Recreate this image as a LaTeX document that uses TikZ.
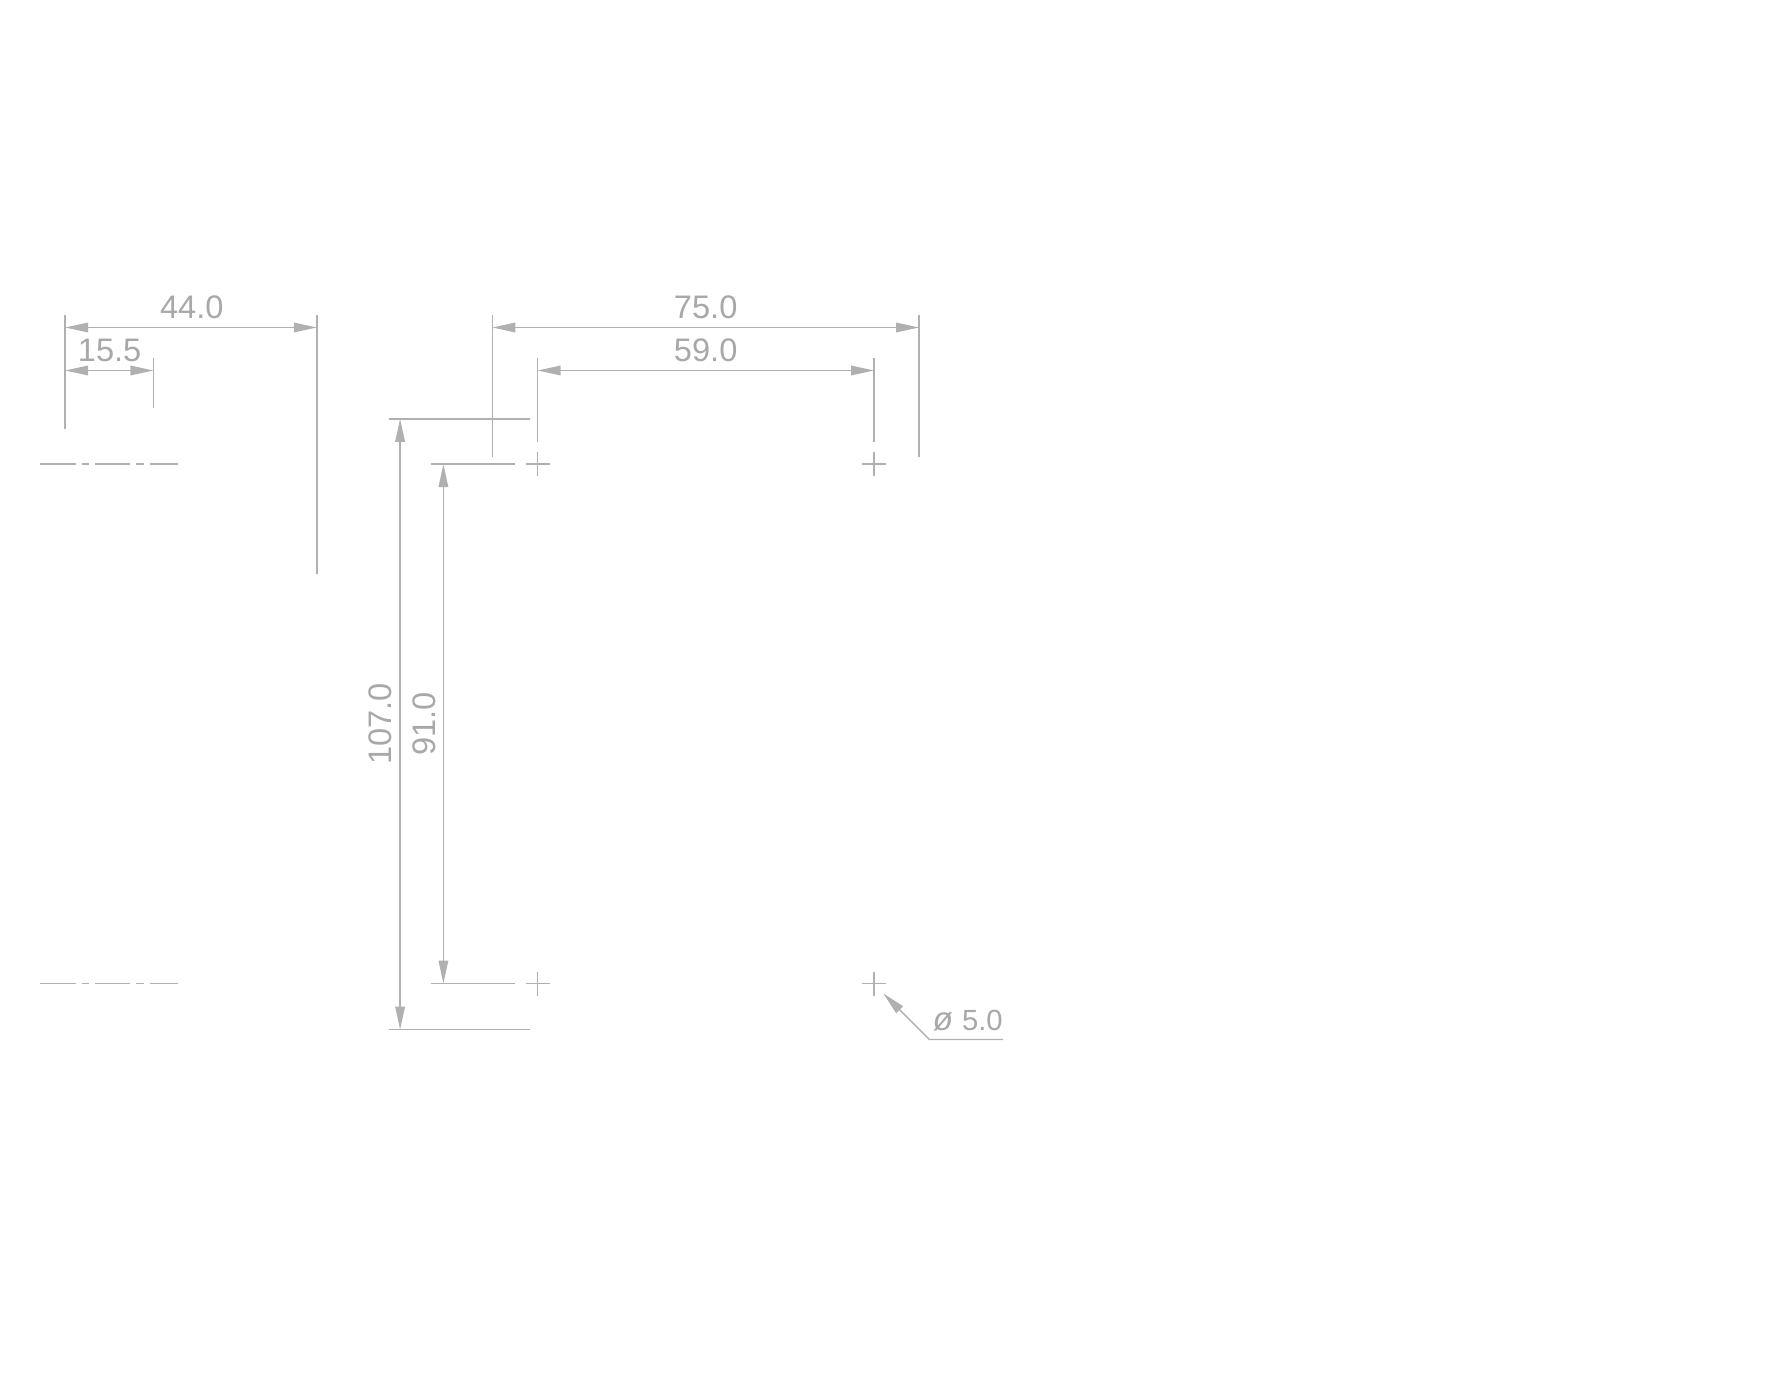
\documentclass[tikz,border=0pt]{standalone}
\usepackage{fontspec}
\setmainfont{Liberation Sans}
\usetikzlibrary{arrows.meta}
\definecolor{dimline}{HTML}{B0B0B0}
\definecolor{dimtext}{HTML}{A8A8A8}
\tikzset{
  dimstyle/.style={draw=dimline,line width=0.7pt},
  dimarrow/.style={dimstyle,{Triangle[length=11.5pt,width=4.8pt,fill=dimline]}-{Triangle[length=11.5pt,width=4.8pt,fill=dimline]},shorten <=0pt,shorten >=0pt},
  leaderarrow/.style={dimstyle,{Triangle[length=11.5pt,width=4.8pt,fill=dimline]}-},
  dimlabel/.style={inner sep=0pt,anchor=base,text=dimtext,font=\fontsize{16.3pt}{16.3pt}\selectfont},
  dimlabelv/.style={dimlabel,rotate=90}
}
\begin{document}
\begin{tikzpicture}[x=0.5pt,y=-0.5pt]
\useasboundingbox (0,0) rectangle (1770,1380);
\begin{scope}[shift={(0.1,0.8)}]
% key positions
\def\Ya{326.7}\def\Yb{369.7}\def\Yc{463.3}\def\Yd{982.7}
% left view dimensions
\coordinate (a1) at (65,\Ya); \coordinate (a2) at (316.7,\Ya);
\coordinate (b1) at (65,\Yb); \coordinate (b2) at (153.3,\Yb);
\draw[dimstyle] (65,314.3) -- (65,427.7);
\draw[dimstyle] (316.7,314.3) -- (316.7,573);
\draw[dimstyle] (153.3,357.3) -- (153.3,406.7);
\draw[dimarrow] (a1) -- (a2);
\draw[dimarrow] (b1) -- (b2);
\node[dimlabel] (t44) at (191.7,318) {44.0};
\node[dimlabel] (t15) at (109.5,361) {15.5};
% centre lines
\foreach \yy in {\Yc,\Yd}{
  \draw[dimstyle] (40.3,\yy) -- (76,\yy) (81.7,\yy) -- (89.3,\yy) (95,\yy) -- (130.3,\yy)
     (136,\yy) -- (144,\yy) (150,\yy) -- (178.3,\yy);
}
% top dimensions, right view
\coordinate (c1) at (492.2,\Ya); \coordinate (c2) at (919,\Ya);
\coordinate (d1) at (537.5,\Yb); \coordinate (d2) at (873.9,\Yb);
\draw[dimstyle] (492.2,314.3) -- (492.2,455.7);
\draw[dimstyle] (919,314.3) -- (919,455.7);
\draw[dimstyle] (537.5,357.3) -- (537.5,441);
\draw[dimstyle] (873.9,357.3) -- (873.9,441);
\draw[dimarrow] (c1) -- (c2);
\draw[dimarrow] (d1) -- (d2);
\node[dimlabel] (t75) at (705.6,318) {75.0};
\node[dimlabel] (t59) at (705.6,361) {59.0};
% vertical dimensions
\coordinate (e1) at (400,418); \coordinate (e2) at (400,1028.7);
\coordinate (f1) at (443.3,\Yc); \coordinate (f2) at (443.3,\Yd);
\draw[dimstyle] (388.4,418) -- (529.5,418);
\draw[dimstyle] (388.4,1028.7) -- (529.5,1028.7);
\draw[dimstyle] (431,\Yc) -- (514.5,\Yc);
\draw[dimstyle] (431,\Yd) -- (514.5,\Yd);
\draw[dimarrow] (e1) -- (e2);
\draw[dimarrow] (f1) -- (f2);
\node[dimlabelv] (t107) at (391.7,723) {107.0};
\node[dimlabelv] (t91) at (435,723) {91.0};
% hole centre marks
\foreach \xx/\yy in {537.5/\Yc,873.9/\Yc,537.5/\Yd,873.9/\Yd}{
  \draw[dimstyle] (\xx-12,\yy) -- (\xx+12,\yy) (\xx,\yy-12) -- (\xx,\yy+12);
}
% diameter leader
\coordinate (g1) at (883.3,992.7); \coordinate (g2) at (929.3,1038.7); \coordinate (g3) at (1002.7,1038.7);
\draw[leaderarrow] (g1) -- (g2) -- (g3);
\node[dimlabel,anchor=base east] (t5) at (1003,1030) {\fontsize{16.5pt}{16.5pt}\selectfont\textit{ø}\hspace{4.5pt}\fontsize{14.6pt}{14.6pt}\selectfont 5.0};
\end{scope}
\end{tikzpicture}
\end{document}
